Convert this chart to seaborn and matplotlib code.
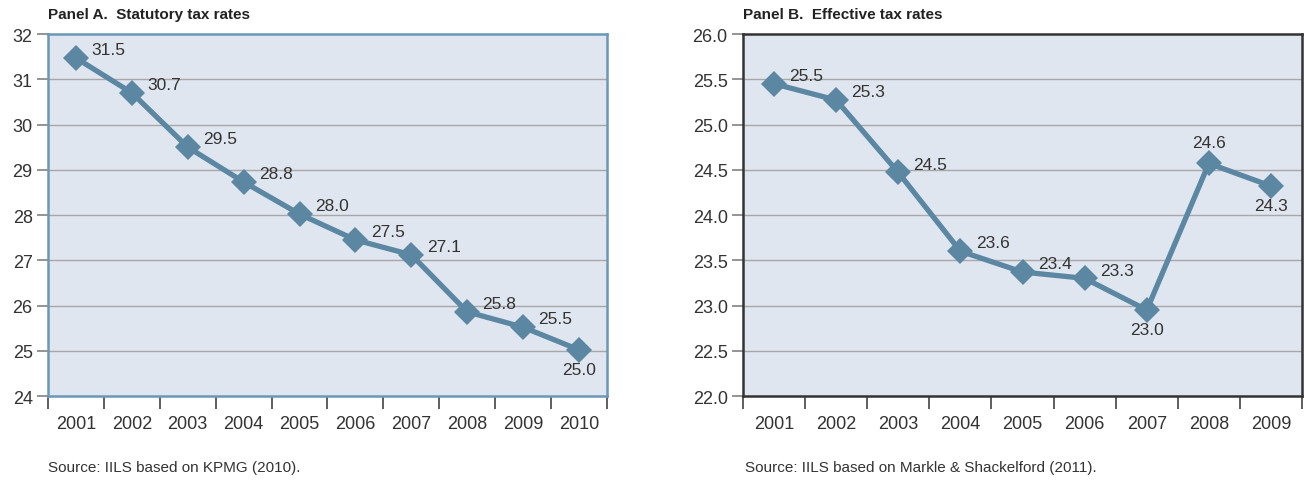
import matplotlib

matplotlib.use("Agg")
import matplotlib.pyplot as plt
import numpy as np
import pandas as pd
import seaborn as sns
from matplotlib.ticker import FixedLocator, FormatStrFormatter

# Panel A: statutory tax rates
years_a = ["2001", "2002", "2003", "2004", "2005", "2006", "2007", "2008", "2009", "2010"]
rates_a = [31.47, 30.70, 29.50, 28.73, 28.02, 27.45, 27.12, 25.86, 25.52, 25.02]
labels_a = ["31.5", "30.7", "29.5", "28.8", "28.0", "27.5", "27.1", "25.8", "25.5", "25.0"]

# Panel B: effective tax rates
years_b = ["2001", "2002", "2003", "2004", "2005", "2006", "2007", "2008", "2009"]
rates_b = [25.45, 25.27, 24.47, 23.60, 23.37, 23.30, 22.95, 24.57, 24.32]
labels_b = ["25.5", "25.3", "24.5", "23.6", "23.4", "23.3", "23.0", "24.6", "24.3"]

LINE_COLOR = "#5b87a3"
BG_COLOR = "#dfe6ef"
TEXT_COLOR = "#333333"

sns.set_theme(style="white")
plt.rcParams["font.family"] = ["Liberation Sans", "DejaVu Sans"]


def draw_panel(ax, years, rates, labels, ylim, yticks, yfmt, spine_color, below, above):
    df = pd.DataFrame({"pos": np.arange(len(years)), "rate": rates})
    ax.set_facecolor(BG_COLOR)
    for y in yticks[1:-1]:
        ax.axhline(y, color="#a8a8a8", linewidth=1.0, zorder=1)
    sns.lineplot(
        data=df, x="pos", y="rate", ax=ax, color=LINE_COLOR, linewidth=3.8,
        marker="D", markersize=13, markeredgewidth=0, zorder=3,
    )
    for i, (v, lab) in enumerate(zip(rates, labels)):
        if i in below:
            ax.annotate(lab, (i, v), xytext=(0, -14), textcoords="offset points",
                        ha="center", va="center", fontsize=12.5, color=TEXT_COLOR)
        elif i in above:
            ax.annotate(lab, (i, v), xytext=(0, 15), textcoords="offset points",
                        ha="center", va="center", fontsize=12.5, color=TEXT_COLOR)
        else:
            ax.annotate(lab, (i, v), xytext=(11, 6), textcoords="offset points",
                        ha="left", va="center", fontsize=12.5, color=TEXT_COLOR)

    n = len(years)
    ax.set_xlim(-0.5, n - 0.5)
    ax.set_ylim(*ylim)
    ax.set_xticks(np.arange(n))
    ax.set_xticklabels(years)
    ax.xaxis.set_minor_locator(FixedLocator(np.arange(n + 1) - 0.5))
    ax.tick_params(axis="x", which="major", length=0, pad=14, labelsize=13, labelcolor=TEXT_COLOR)
    ax.tick_params(axis="x", which="minor", bottom=True, length=9, width=1.1, color="#333333")
    ax.set_yticks(yticks)
    ax.yaxis.set_major_formatter(FormatStrFormatter(yfmt))
    ax.tick_params(axis="y", left=True, length=8, width=1.1, color="#777777",
                   labelsize=13, labelcolor=TEXT_COLOR, pad=3)
    ax.set_xlabel("")
    ax.set_ylabel("")
    for side in ["left", "right", "top", "bottom"]:
        ax.spines[side].set_visible(True)
        ax.spines[side].set_color(spine_color)
        ax.spines[side].set_linewidth(1.8)
        ax.spines[side].set_zorder(4)


fig = plt.figure(figsize=(13.04, 4.81), dpi=100)
ax_a = fig.add_axes([0.0368, 0.1746, 0.4287, 0.7526])
ax_b = fig.add_axes([0.5698, 0.1746, 0.4287, 0.7526])

draw_panel(ax_a, years_a, rates_a, labels_a, (24, 32), list(range(24, 33)), "%d",
           "#6b98b6", below={9}, above=set())
draw_panel(ax_b, years_b, rates_b, labels_b, (22, 26), list(np.arange(22, 26.01, 0.5)), "%.1f",
           "#333333", below={6, 8}, above={7})

fig.text(0.0368, 0.968, "Panel A.  Statutory tax rates", fontsize=11, fontweight="bold",
         color="#222222", va="center")
fig.text(0.5698, 0.968, "Panel B.  Effective tax rates", fontsize=11, fontweight="bold",
         color="#222222", va="center")
fig.text(0.0368, 0.028, "Source: IILS based on KPMG (2010).", fontsize=11, color=TEXT_COLOR, va="center")
fig.text(0.5713, 0.028, "Source: IILS based on Markle & Shackelford (2011).", fontsize=11,
         color=TEXT_COLOR, va="center")

fig.savefig("out.png", dpi=100)
